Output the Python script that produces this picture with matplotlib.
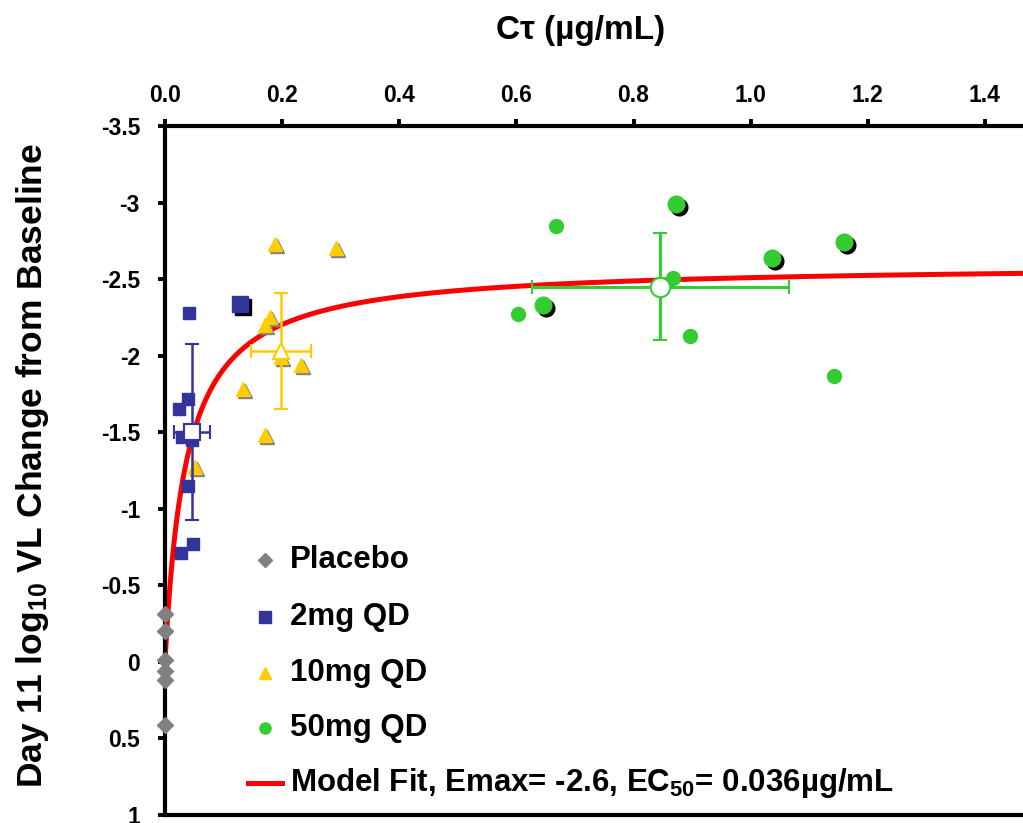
import numpy as np
import matplotlib
matplotlib.use("Agg")
import matplotlib.pyplot as plt
from matplotlib.transforms import offset_copy

# Ctau (ug/mL) and Day 11 log10 VL change
placebo_x = [0.0, 0.0, 0.0, 0.0, 0.0, 0.0]
placebo_y = [-0.31, -0.20, -0.01, 0.06, 0.12, 0.41]

qd2_x = [0.041, 0.039, 0.024, 0.029, 0.046, 0.039, 0.048, 0.027]
qd2_y = [-2.28, -1.72, -1.65, -1.47, -1.45, -1.15, -0.77, -0.71]
qd2_big_x = [0.128]
qd2_big_y = [-2.34]
qd2_mean = (0.046, -1.50)
qd2_xerr, qd2_yerr = 0.030, 0.575

qd10_x = [0.188, 0.292, 0.179, 0.171, 0.198, 0.232, 0.133, 0.171, 0.051]
qd10_y = [-2.73, -2.70, -2.25, -2.20, -1.99, -1.94, -1.78, -1.48, -1.27]
qd10_mean = (0.198, -2.03)
qd10_xerr, qd10_yerr = 0.052, 0.38

qd50_x = [0.667, 0.867, 0.602, 0.896, 1.142]
qd50_y = [-2.85, -2.51, -2.27, -2.13, -1.87]
qd50_big_x = [0.873, 1.036, 1.159, 0.646]
qd50_big_y = [-2.99, -2.64, -2.74, -2.33]
qd50_mean = (0.846, -2.45)
qd50_xerr, qd50_yerr = 0.22, 0.35

EMAX = -2.6
EC50 = 0.036

GREY = "#808080"
BLUE = "#333399"
GOLD = "#FFCC00"
GREEN = "#33CC33"

plt.rcParams["font.family"] = ["Liberation Sans", "DejaVu Sans"]
plt.rcParams["font.weight"] = "bold"
plt.rcParams["mathtext.fontset"] = "custom"
plt.rcParams["mathtext.rm"] = "Liberation Sans:bold"
plt.rcParams["mathtext.bf"] = "Liberation Sans:bold"
plt.rcParams["mathtext.default"] = "bf"

fig = plt.figure(figsize=(10.23, 8.23), dpi=100)
ax = fig.add_axes([165 / 1023, 1 - 815 / 823, 858 / 1023, 689 / 823])

shadow = offset_copy(ax.transData, fig=fig, x=3, y=-3, units="dots")
grey_shadow = offset_copy(ax.transData, fig=fig, x=2, y=-2, units="dots")

# model fit
conc = np.linspace(0.0008, 1.465, 600)
effect = EMAX * conc / (EC50 + conc)
ax.plot(conc, effect, color="red", lw=3.6, zorder=2)

# placebo
ax.plot(placebo_x, placebo_y, "D", color=GREY, ms=8, mec=GREY, zorder=4, clip_on=False)

# 2mg
ax.plot(qd2_big_x, qd2_big_y, "s", color="black", ms=12, transform=shadow, zorder=3)
ax.plot(qd2_big_x, qd2_big_y, "s", color=BLUE, ms=12, zorder=4)
ax.plot(qd2_x, qd2_y, "s", color=BLUE, ms=9, zorder=4)
ax.errorbar([qd2_mean[0]], [qd2_mean[1]], xerr=qd2_xerr, yerr=qd2_yerr, fmt="s",
            color=BLUE, mfc="white", mec=BLUE, ms=11, mew=1.5, elinewidth=1.8,
            capsize=5, capthick=1.8, zorder=6)

# 10mg
ax.plot(qd10_x, qd10_y, "^", color=GREY, ms=10, transform=grey_shadow, zorder=3)
ax.plot(qd10_x, qd10_y, "^", color=GOLD, ms=10, zorder=4)
ax.errorbar([qd10_mean[0]], [qd10_mean[1]], xerr=qd10_xerr, yerr=qd10_yerr, fmt="^",
            color=GOLD, mfc="white", mec=GOLD, ms=11, mew=1.5, elinewidth=1.8,
            capsize=5, capthick=1.8, zorder=6)

# 50mg
ax.plot(qd50_big_x, qd50_big_y, "o", color="black", ms=12, transform=shadow, zorder=3)
ax.plot(qd50_big_x, qd50_big_y, "o", color=GREEN, ms=12, zorder=4)
ax.plot(qd50_x, qd50_y, "o", color=GREEN, ms=10, zorder=4)
ax.errorbar([qd50_mean[0]], [qd50_mean[1]], xerr=qd50_xerr, yerr=qd50_yerr, fmt="o",
            color=GREEN, mfc="white", mec=GREEN, ms=14, mew=1.5, elinewidth=2.2,
            capsize=5, capthick=2.2, zorder=6)

# axes styling
ax.set_xlim(0, 1.465)
ax.set_ylim(1, -3.5)
ax.xaxis.tick_top()
ax.set_xticks(np.arange(0, 1.41, 0.2))
ax.set_xticklabels([f"{v:.1f}" for v in np.arange(0, 1.41, 0.2)])
yt = [-3.5, -3, -2.5, -2, -1.5, -1, -0.5, 0, 0.5, 1]
ax.set_yticks(yt)
ax.set_yticklabels([f"{v:g}" for v in yt])
ax.tick_params(axis="both", direction="out", length=5, width=2.8, labelsize=16.5)
ax.tick_params(axis="x", pad=9)
ax.tick_params(axis="y", pad=13)
for lab in ax.get_xticklabels() + ax.get_yticklabels():
    lab.set_fontweight("bold")
ax.spines["right"].set_visible(False)
for s in ["top", "left", "bottom"]:
    ax.spines[s].set_linewidth(3)

fig.text(581 / 1023, 1 - 30 / 823, "C\u03c4 (\u00b5g/mL)", ha="center", va="center",
         fontsize=24, fontweight="bold")
fig.text(33 / 1023, 1 - 466 / 823, "Day 11 log$_{10}$ VL Change from Baseline",
         rotation=90, ha="center", va="center", fontsize=25.5, fontweight="bold")

# legend drawn by hand
rows = [0.370, 0.287, 0.206, 0.126, 0.046]
mx, tx = 0.1166, 0.1457
leg_markers = [("D", GREY, 7), ("s", BLUE, 8), ("^", GOLD, 9), ("o", GREEN, 8)]
leg_text = ["Placebo", "2mg QD", "10mg QD", "50mg QD",
            "Model Fit, Emax= -2.6, EC$_{50}$= 0.036\u00b5g/mL"]
for (m, c, s), y in zip(leg_markers, rows[:4]):
    ax.plot([mx], [y], m, color=c, ms=s, transform=ax.transAxes, zorder=7)
ax.plot([0.0967, 0.136], [rows[4], rows[4]], color="red", lw=3.6,
        transform=ax.transAxes, zorder=7)
for t, y in zip(leg_text, rows):
    ax.text(tx, y, t, transform=ax.transAxes, ha="left", va="center",
            fontsize=22.5, fontweight="bold", zorder=7)

fig.savefig("out.png", dpi=100)
